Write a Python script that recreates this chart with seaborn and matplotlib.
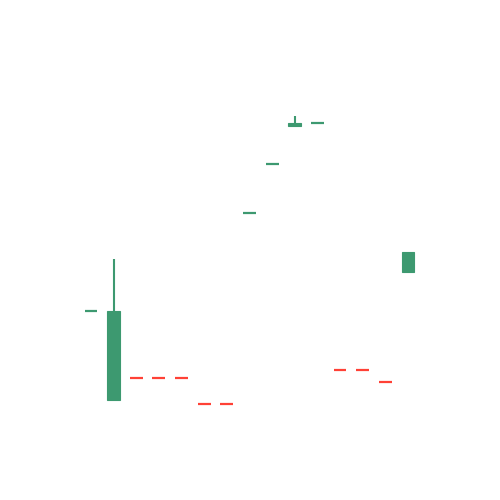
import matplotlib
matplotlib.use("Agg")
import matplotlib.pyplot as plt
import seaborn as sns
import pandas as pd

# candle data
days = list(range(15))
open_ = [18.9, 10.0, 12.2, 12.2, 12.2, 9.6, 9.6, 28.7, 33.6, 37.4, 37.7, 13.0, 13.0, 11.8, 22.8]
high = [18.9, 24.1, 12.2, 12.2, 12.2, 9.6, 9.6, 28.7, 33.6, 38.4, 37.7, 13.0, 13.0, 11.8, 24.8]
low = [18.9, 10.0, 12.2, 12.2, 12.2, 9.6, 9.6, 28.7, 33.6, 37.4, 37.7, 13.0, 13.0, 11.8, 22.8]
close = [18.9, 18.9, 12.2, 12.2, 12.2, 9.6, 9.6, 28.7, 33.6, 37.7, 37.7, 13.0, 13.0, 11.8, 24.8]
up = [True, True, False, False, False, False, False, True, True, True, True, False, False, False, True]

df = pd.DataFrame({"day": days, "open": open_, "high": high, "low": low,
                   "close": close, "up": up})

sns.set_style("white")
fig = plt.figure(figsize=(5, 5), dpi=100)
ax = fig.add_axes([0, 0, 1, 1])

green = "#3D9970"
red = "#FF4136"
w = 0.57

for _, r in df.iterrows():
    c = green if r["up"] else red
    lo_b = min(r["open"], r["close"])
    hi_b = max(r["open"], r["close"])
    if r["high"] > hi_b:
        ax.vlines(r["day"], hi_b, r["high"], color=c, lw=1.5)
    if r["low"] < lo_b:
        ax.vlines(r["day"], r["low"], lo_b, color=c, lw=1.5)
    if hi_b - lo_b < 0.1:
        ax.hlines(lo_b, r["day"] - w / 2, r["day"] + w / 2, color=c, lw=1.6)
    else:
        ax.bar(r["day"], hi_b - lo_b, bottom=lo_b, width=w, color=c,
               edgecolor=c, linewidth=0.8)

ax.set_xlim(-91 / 22.64, 409 / 22.64)
ax.set_ylim(0, 50)
ax.set_xticks([])
ax.set_yticks([])
sns.despine(ax=ax, left=True, bottom=True)

fig.savefig("out.png", dpi=100)
